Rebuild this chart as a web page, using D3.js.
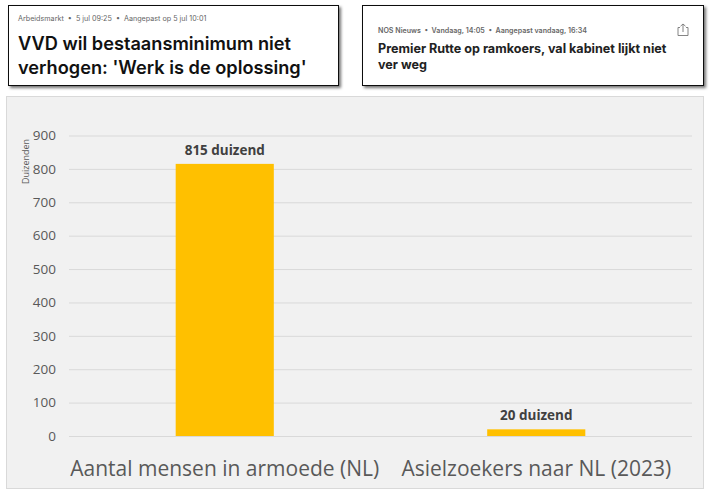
<!DOCTYPE html>
<html>
<head>
<meta charset="utf-8">
<script src="https://cdn.jsdelivr.net/npm/d3@7"></script>
<style>
  html, body { margin: 0; padding: 0; background: #fff; overflow: hidden; }
  text { font-family: "Open Sans", sans-serif; }
</style>
</head>
<body>
<div id="container"></div>
<script>
let w = 714;
let h = 495;

// chart data
let categories = ["Aantal mensen in armoede (NL)", "Asielzoekers naar NL (2023)"];
let values = [815, 20];
let valueLabels = ["815 duizend", "20 duizend"];
let yTicks = [0, 100, 200, 300, 400, 500, 600, 700, 800, 900];
let yTitle = "Duizenden";

// the two news headlines above the chart
let leftMeta = "Arbeidsmarkt  •  5 jul 09:25  •  Aangepast op 5 jul 10:01";
let leftTitle = ["VVD wil bestaansminimum niet", "verhogen: 'Werk is de oplossing'"];
let rightMeta = "NOS Nieuws  •  Vandaag, 14:05  •  Aangepast vandaag, 16:34";
let rightTitle = ["Premier Rutte op ramkoers, val kabinet lijkt niet", "ver weg"];

let viz = d3.select("#container").append("svg")
  .attr("width", w)
  .attr("height", h)
  .style("display", "block");

let defs = viz.append("defs");
let shadow = defs.append("filter").attr("id", "shadow")
  .attr("x", "-5%").attr("y", "-10%").attr("width", "110%").attr("height", "125%");
shadow.append("feDropShadow")
  .attr("dx", 2).attr("dy", 2).attr("stdDeviation", 1.5)
  .attr("flood-color", "#000").attr("flood-opacity", 0.55);

// headline cards
function card(x, y, cw, ch) {
  return viz.append("rect")
    .attr("x", x).attr("y", y).attr("width", cw).attr("height", ch)
    .attr("fill", "#fff").attr("stroke", "#111").attr("stroke-width", 1)
    .attr("filter", "url(#shadow)");
}

card(8.5, 5.5, 330, 80);
viz.append("text").attr("x", 18).attr("y", 21)
  .attr("font-size", 7.2).attr("fill", "#666").attr("xml:space", "preserve")
  .style("font-family", "Inter, sans-serif")
  .text(leftMeta);
viz.selectAll(".lefttitle").data(leftTitle).enter().append("text")
  .attr("class", "lefttitle")
  .attr("x", 18)
  .attr("y", (d, i) => 50 + i * 24)
  .attr("font-size", 18.2)
  .attr("font-weight", 600)
  .attr("fill", "#111")
  .style("font-family", "Inter, sans-serif")
  .text(d => d);

card(362.5, 5.5, 341, 80);
viz.append("text").attr("x", 378).attr("y", 33)
  .attr("font-size", 7.1).attr("font-weight", 600).attr("fill", "#666").attr("xml:space", "preserve")
  .style("font-family", "Inter, sans-serif")
  .text(rightMeta);
viz.selectAll(".righttitle").data(rightTitle).enter().append("text")
  .attr("class", "righttitle")
  .attr("x", 378)
  .attr("y", (d, i) => 53 + i * 16)
  .attr("font-size", 12.6)
  .attr("font-weight", 700)
  .attr("fill", "#222")
  .style("font-family", "Inter, sans-serif")
  .text(d => d);

// share icon
let share = viz.append("g").attr("transform", "translate(683,30)")
  .attr("fill", "none").attr("stroke", "#777").attr("stroke-width", 0.9);
share.append("path").attr("d", "M-3 -2.5 H-5 V5.5 H5 V-2.5 H3");
share.append("path").attr("d", "M0 2 V-6 M-2.5 -3.8 L0 -6 L2.5 -3.8");

// chart panel
viz.append("rect")
  .attr("x", 6.5).attr("y", 96.5).attr("width", 697).attr("height", 392)
  .attr("fill", "#f1f1f1").attr("stroke", "#d9d9d9").attr("stroke-width", 1);

// scales
let x = d3.scaleBand().domain(categories).range([69, 692]).paddingInner(0.685).paddingOuter(0.3425);
let y = d3.scaleLinear().domain([0, 900]).range([436, 135.5]);

// gridlines + y labels
let yAxis = viz.append("g")
  .attr("transform", "translate(69,0)")
  .call(d3.axisLeft(y).tickValues(yTicks).tickSize(-623).tickPadding(13));
yAxis.select(".domain").remove();
yAxis.selectAll("line").attr("stroke", "#d9d9d9").attr("stroke-width", 1);
yAxis.selectAll("text").attr("font-size", 13.5).attr("fill", "#595959")
  .style("font-family", "'Open Sans', sans-serif");

viz.append("text")
  .attr("transform", "translate(29,161.5) rotate(-90)")
  .attr("text-anchor", "middle")
  .attr("font-size", 9)
  .attr("fill", "#595959")
  .text(yTitle);

// bars
viz.selectAll(".bar").data(values).enter().append("rect")
  .attr("class", "bar")
  .attr("x", (d, i) => x(categories[i]))
  .attr("y", d => y(d))
  .attr("width", x.bandwidth())
  .attr("height", d => y(0) - y(d))
  .attr("fill", "#ffc000");

// value labels
viz.selectAll(".barlabel").data(values).enter().append("text")
  .attr("class", "barlabel")
  .attr("x", (d, i) => x(categories[i]) + x.bandwidth() / 2)
  .attr("y", d => y(d) - 9)
  .attr("text-anchor", "middle")
  .attr("font-size", 13.5)
  .attr("font-weight", 700)
  .attr("fill", "#404040")
  .text((d, i) => valueLabels[i]);

// category labels
viz.selectAll(".catlabel").data(categories).enter().append("text")
  .attr("class", "catlabel")
  .attr("x", d => x(d) + x.bandwidth() / 2)
  .attr("y", 475.5)
  .attr("text-anchor", "middle")
  .attr("font-size", 21)
  .attr("fill", "#595959")
  .text(d => d);
</script>
</body>
</html>
